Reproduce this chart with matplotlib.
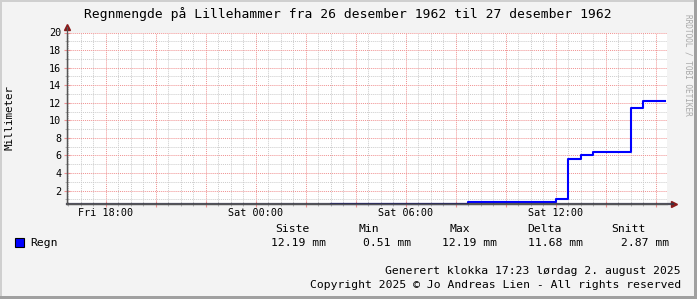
import matplotlib
matplotlib.use("Agg")
from matplotlib import pyplot as plt
from matplotlib.patches import Rectangle
import numpy as np

# hours counted from Fri 00:00
times = [27.0, 32.5, 36.0, 36.5, 37.0, 37.5, 39.0, 39.5, 40.35]
rain = [0.51, 0.76, 1.02, 5.59, 6.10, 6.35, 11.43, 12.19, 12.19]

x_start, x_end = 16.43, 40.43
y_low, y_high = 0.51, 20

tick_hours = [18, 24, 30, 36]
tick_names = ["Fri 18:00", "Sat 00:00", "Sat 06:00", "Sat 12:00"]

stat_names = ["Siste", "Min", "Max", "Delta", "Snitt"]
stat_values = ["12.19 mm", "0.51 mm", "12.19 mm", "11.68 mm", "2.87 mm"]

title = "Regnmengde på Lillehammer fra 26 desember 1962 til 27 desember 1962"

W, H = 697, 299
mono = "DejaVu Sans Mono"
plt.rcParams["font.family"] = mono

fig = plt.figure(figsize=(W / 100, H / 100), dpi=100, facecolor="#f3f3f3")


def fx(px):
    return px / W


def fy(py):
    return 1 - py / H


ax = fig.add_axes([fx(66.7), fy(203.7), fx(600), (203.7 - 32.5) / H])
ax.set_facecolor("white")

# grid
major_x = np.arange(18, 41, 2)
ax.set_xticks(major_x)
ax.set_xticklabels([tick_names[tick_hours.index(h)] if h in tick_hours else "" for h in major_x])
ax.set_xticks(np.arange(16.5, 40.5, 0.5), minor=True)
ax.set_yticks(np.arange(2, 21, 2))
ax.set_yticks(np.arange(1, 20, 1), minor=True)
ax.grid(which="minor", color="#cccccc", linestyle=(0, (1, 1)), linewidth=0.7)
ax.grid(which="major", color="#f09090", linestyle=(0, (1, 1)), linewidth=0.7)
ax.set_axisbelow(True)

ax.step(times, rain, where="post", color="#0000ff", linewidth=1.5, zorder=2, clip_on=False)

ax.set_xlim(x_start, x_end)
ax.set_ylim(y_low, y_high)

for s in ["top", "right"]:
    ax.spines[s].set_visible(False)
for s in ["left", "bottom"]:
    ax.spines[s].set_color("#555555")
    ax.spines[s].set_linewidth(0.9)
    ax.spines[s].set_zorder(3)

ax.tick_params(which="major", axis="x", direction="inout", length=4, color="#f09090", labelsize=7.3, pad=1)
ax.tick_params(which="minor", axis="x", direction="inout", length=3, color="#aaaaaa")
ax.tick_params(which="major", axis="y", direction="inout", length=4, color="#f09090", labelsize=7.3, pad=2)
ax.tick_params(which="minor", axis="y", direction="inout", length=3, color="#aaaaaa")

# axis arrows
ax.plot([1.012], [0], marker=">", markersize=5, color="#8b1a1a", transform=ax.transAxes, clip_on=False)
ax.plot([0], [1.03], marker="^", markersize=5, color="#8b1a1a", transform=ax.transAxes, clip_on=False)
ax.plot([0, 1.01], [0, 0], color="#333344", lw=1.6, alpha=0.85, transform=ax.transAxes, clip_on=False, zorder=3)
ax.plot([0, 0], [0, 1.03], color="#555555", lw=0.9, transform=ax.transAxes, clip_on=False, zorder=3)

fig.text(fx(10), fy(117), "Millimeter", rotation=90, ha="center", va="center", fontsize=7.8)
fig.text(fx(348), fy(14), title, ha="center", va="center", fontsize=9.4)
fig.text(fx(688), fy(65), "RRDTOOL / TOBI OETIKER", rotation=270, ha="center", va="center",
         fontsize=5.6, color="#a8a8a8")

# legend
fig.patches.append(Rectangle((fx(15), fy(247)), fx(9), 9 / H, transform=fig.transFigure,
                             facecolor="#0000ff", edgecolor="black", linewidth=0.8))
fig.text(fx(30), fy(243), "Regn", ha="left", va="center", fontsize=8.2)
head_x = [292, 369, 460, 544, 628]
val_right = [326, 411, 497, 583, 669]
for name, val, hx, vx in zip(stat_names, stat_values, head_x, val_right):
    fig.text(fx(hx), fy(229), name, ha="center", va="center", fontsize=8.2)
    fig.text(fx(vx), fy(243), val, ha="right", va="center", fontsize=8.2)

fig.text(fx(681), fy(271), "Generert klokka 17:23 lørdag 2. august 2025", ha="right", va="center", fontsize=8.2)
fig.text(fx(681), fy(285), "Copyright 2025 © Jo Andreas Lien - All rights reserved", ha="right", va="center",
         fontsize=8.2)

# frame
fig.patches.append(Rectangle((0, 0), fx(2), 1, transform=fig.transFigure, color="#cfcfcf", lw=0))
fig.patches.append(Rectangle((0, 1 - 2 / H), 1, 2 / H, transform=fig.transFigure, color="#cfcfcf", lw=0))
fig.patches.append(Rectangle((1 - 3 / W, 0), 3 / W, 1, transform=fig.transFigure, color="#a0a0a0", lw=0))
fig.patches.append(Rectangle((0, 0), 1, 3 / H, transform=fig.transFigure, color="#a0a0a0", lw=0))

fig.savefig("out.png", dpi=100, facecolor=fig.get_facecolor())
